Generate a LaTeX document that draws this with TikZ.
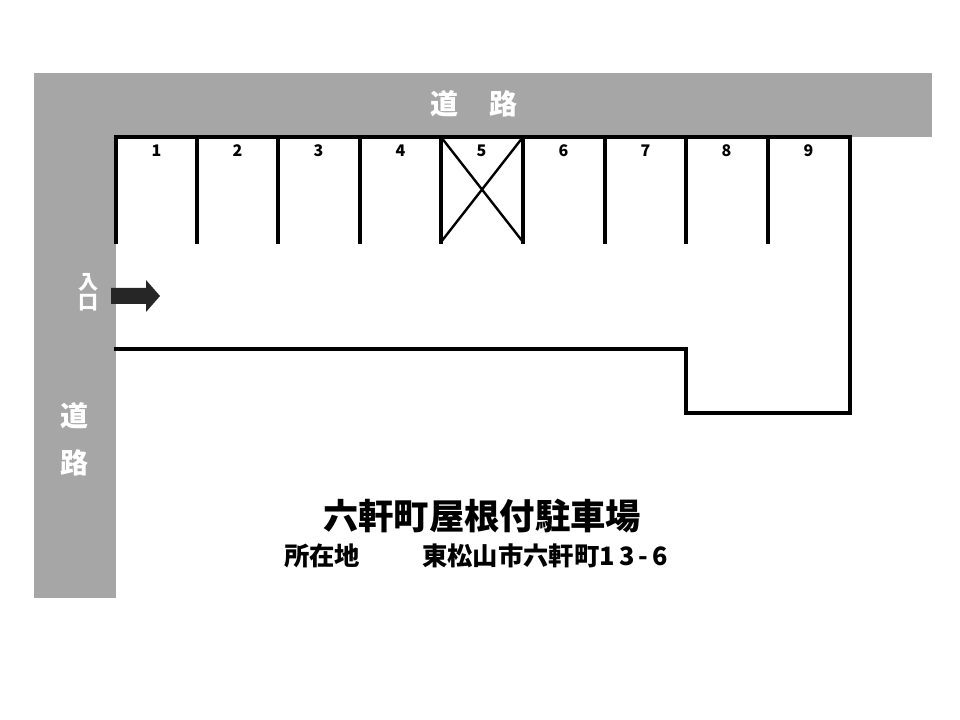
\documentclass[tikz,border=0pt]{standalone}
\usepackage{fontspec}
\setmainfont{Noto Sans CJK JP}[BoldFont={Noto Sans CJK JP Black}]
\begin{document}
\begin{tikzpicture}[
x=0.75pt, y=-0.75pt,
road/.style={fill=black!35, draw=none},
lot/.style={line width=2.4pt, line cap=rect},
roadtext/.style={text=white, font=\bfseries\fontsize{21}{21}\selectfont, inner sep=0pt},
slotno/.style={font=\bfseries\fontsize{12}{12}\selectfont, inner sep=0pt},
caption/.style={font=\bfseries\fontsize{19}{19}\selectfont, inner sep=0pt, anchor=west}
]
\useasboundingbox (0,0) rectangle (960,720);

% roads
\fill[road] (34,73) rectangle (932,137);
\fill[road] (34,73) rectangle (116,598);
\node[roadtext] (roadtop) at (474,104) {道\hspace{1.1em}路};
\node[roadtext, align=center] (roadleft) at (74,439) {道\\[14pt]路};
\node[text=white, font=\bfseries\fontsize{15}{15}\selectfont, inner sep=0pt, align=center]
  (entrance) at (88,292) {入\\[0pt]口};

% lot outline
\draw[lot] (116,242) -- (116,137) -- (850,137) -- (850,413) -- (686,413) -- (686,349) -- (116,349);

% stalls
\foreach \n/\x in {1/116,2/197,3/278,4/360,5/441,6/523,7/605,8/686,9/768}{
  \draw[lot] (\x,137) -- (\x,242);
  \node[slotno] (no\n) at (\x+40.5,151) {\n};
}
\draw[line width=1.8pt] (441,137) -- (523,242) (523,137) -- (441,242);

% arrow
\fill[black!85] (111,288) -- (146,288) -- (146,280) -- (160,296) -- (146,312) -- (146,304) -- (111,304) -- cycle;

% caption
\node[font=\bfseries\fontsize{26.5}{26.5}\selectfont, inner sep=0pt] (title) at (482,516) {六軒町屋根付駐車場};
\node[caption] (place) at (284,556) {所在地};
\node[caption] (address) at (422,556) {東松山市六軒町1\,3\,-\,6};
\end{tikzpicture}
\end{document}
